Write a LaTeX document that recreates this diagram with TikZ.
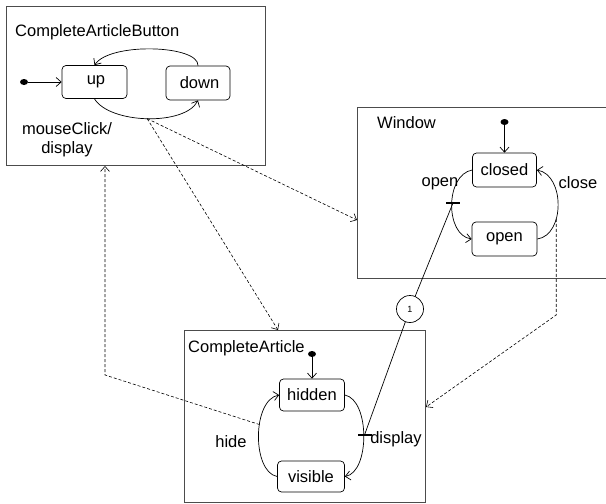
\documentclass[tikz,border=0pt]{standalone}
\usepackage{fontspec}
\setmainfont{Liberation Sans}
\usetikzlibrary{arrows.meta,calc,shapes.geometric}
\newcommand\dfont{\fontsize{16.5}{19}\selectfont}
\begin{document}
\begin{tikzpicture}[x=1pt,y=-1pt,
 container/.style={draw=black!70,line width=1pt,inner sep=0pt,anchor=north west},
 stbox/.style={draw,rounded corners=4pt,line width=0.7pt,inner sep=0pt,font=\dfont},
 initdot/.style={fill,ellipse,minimum width=8pt,minimum height=6pt,inner sep=0pt},
 tip/.style={-{Straight Barb[length=5pt,width=9pt]}},
 trans/.style={line width=0.7pt,tip},
 dep/.style={line width=0.6pt,dash pattern=on 3pt off 2pt,tip},
 lbl/.style={font=\dfont,anchor=base,inner sep=0pt},
 title/.style={font=\dfont,anchor=base west,inner sep=0pt},
 syncbar/.style={fill,minimum width=14pt,minimum height=2.6pt,inner sep=0pt},
 conn/.style={draw,circle,line width=0.7pt,minimum size=27pt,inner sep=0pt,font=\fontsize{9}{10}\selectfont}]
\useasboundingbox (0,0) rectangle (606,504);
\begin{scope}
\clip (0,0) rectangle (606,504);
% containers
\node[container,minimum width=259pt,minimum height=159pt] (btn) at (6,6) {};
\node[container,minimum width=253pt,minimum height=171pt] (win) at (357,107) {};
\node[container,minimum width=241pt,minimum height=172pt] (ca) at (184,330) {};
\end{scope}
\node[title] (tbtn) at (15,36) {CompleteArticleButton};
\node[title] (twin) at (377,128) {Window};
\node[title] (tca) at (188,352) {CompleteArticle};
% states
\node[stbox,minimum width=65pt,minimum height=33pt] (up) at (94.5,82) {\hspace*{3pt}up};
\node[stbox,minimum width=64pt,minimum height=34pt] (down) at (198,83) {\hspace*{3pt}down};
\node[stbox,minimum width=64pt,minimum height=34pt] (closed) at (504.5,170) {closed};
\node[stbox,minimum width=65pt,minimum height=34pt] (wopen) at (504.5,239) {open};
\node[stbox,minimum width=65pt,minimum height=32pt] (hidden) at (312,395) {hidden};
\node[stbox,minimum width=67pt,minimum height=31pt] (visible) at (311,476.5) {visible};
% initial states
\node[initdot] (i1) at (24,82) {};
\node[initdot] (i2) at (504.5,122) {};
\node[initdot] (i3) at (312,354) {};
\draw[trans] (i1) -- (up);
\draw[trans] (i2) -- (closed);
\draw[trans] (i3) -- (hidden);
% transitions
\draw[trans] (up.south) .. controls (110,124) and (185,126) .. (down.south) coordinate[pos=0.5] (ud);
\draw[trans] (down.north) .. controls (199,45) and (110,42) .. (up.north);
\draw[trans] (closed.west) .. controls (445,175) and (445,235) .. (wopen.west);
\draw[trans] (wopen.east) .. controls (565,235) and (565,175) .. (closed.east) coordinate[pos=0.35] (cl);
\draw[trans] (hidden.east) .. controls (370,400) and (370,472) .. (visible.east);
\draw[trans] (visible.west) .. controls (252,472) and (252,400) .. (hidden.west) coordinate[pos=0.6] (hc);
% labels
\node[lbl] (lmc) at (67,134) {mouseClick/};
\node[lbl] (ldisp1) at (67,153) {display};
\node[lbl] (lopen) at (440,186) {open};
\node[lbl] (lclose) at (578,188) {close};
\node[lbl] (lhide) at (231,447) {hide};
\node[lbl] (ldisp2) at (396,443) {display};
% synchronisation
\node[syncbar] (b1) at (453,203) {};
\node[syncbar] (b2) at (364.5,435) {};
\node[conn] (one) at (410,309) {1};
\draw[line width=0.7pt] (b1.center) -- (one);
\draw[line width=0.7pt] (one) -- (b2.center);
% dependencies
\draw[dep] (ud) -- ([yshift=-113pt]win.north west);
\draw[dep] (ud) -- ([xshift=94pt]ca.north west);
\coordinate (k1) at (105,375);
\draw[dep] (hc) -- (k1) -- (k1 |- btn.south);
\coordinate (k2) at (0,315);
\draw[dep] (cl) -- (cl |- k2) -- ([yshift=-77pt]ca.north east);
\end{tikzpicture}
\end{document}
